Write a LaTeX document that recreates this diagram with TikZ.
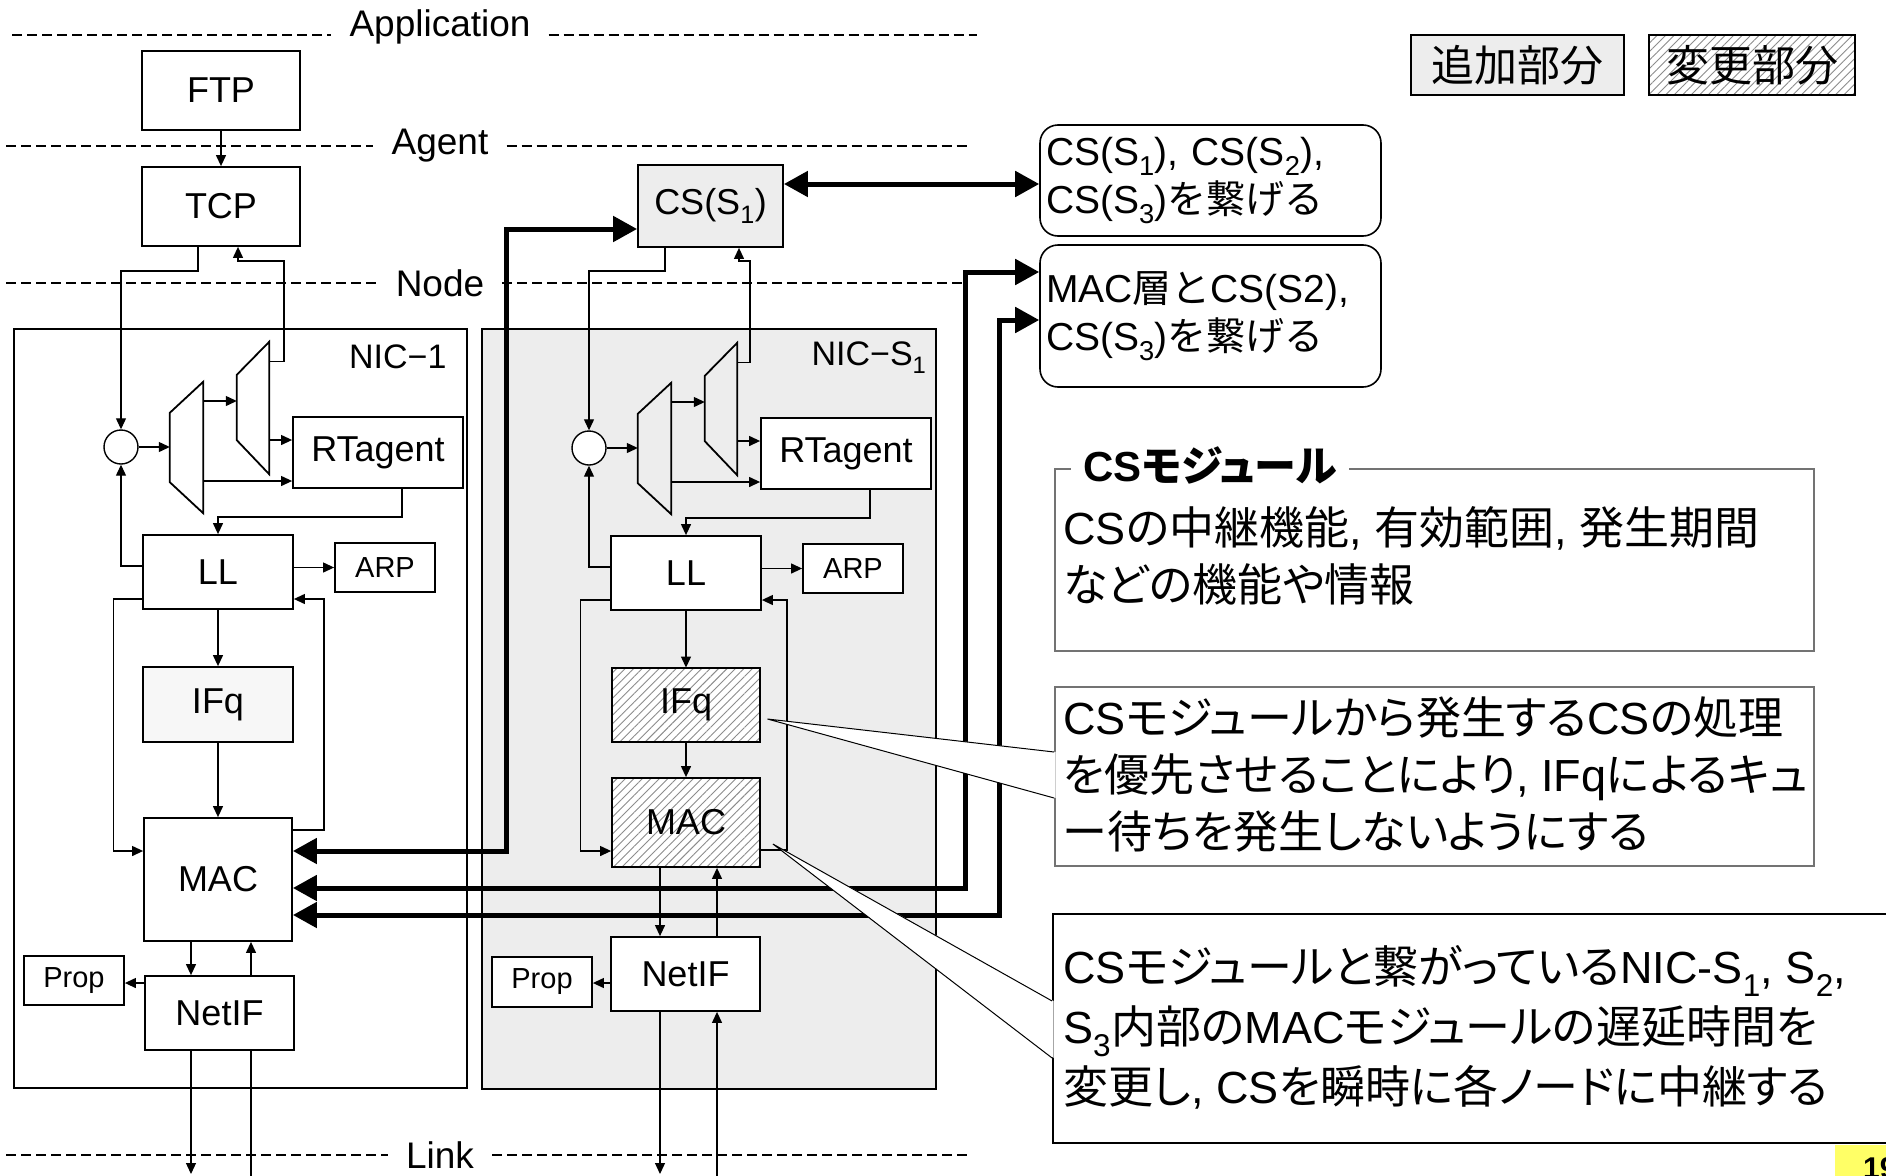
\documentclass[tikz,border=0pt]{standalone}
\usepackage{fontspec}
\setmainfont{Liberation Sans}
\newfontfamily\cjk{Noto Sans CJK JP}
\newfontfamily\cjkp[RawFeature=+palt]{Noto Sans CJK JP}
\usetikzlibrary{arrows.meta,patterns.meta}
\definecolor{pageyellow}{HTML}{FFFF66}

\begin{document}
\begin{tikzpicture}[
    x=1pt, y=-1pt,
    box/.style={draw, line width=1.8pt, inner sep=0pt, fill=white, font=\fontsize{36}{42}\selectfont}, % module boxes
    smallbox/.style={box, font=\fontsize{29}{34}\selectfont},
    wh/.style 2 args={minimum width=#1pt, minimum height=#2pt},
    added/.style={fill=black!7}, % added part
    hatched/.style={preaction={fill=white}, pattern={Lines[angle=45,distance=6pt,line width=0.9pt]}, pattern color=black!45}, % changed part
    frame/.style={draw, line width=1.8pt, inner sep=0pt},
    line/.style={line width=1.2pt},
    conn/.style={line, -{Triangle[length=11pt,width=10pt]}},
    bigarrow/.style={line width=5pt, {Triangle[length=24pt,width=25pt]}-{Triangle[length=24pt,width=25pt]}},
    layer/.style={line width=2pt, dash pattern=on 10pt off 5pt},
    layerlbl/.style={inner xsep=18pt, inner ysep=0pt, font=\fontsize{37}{42}\selectfont},
    rbox/.style={draw, line width=1.6pt, rounded corners=18pt, align=left, inner xsep=6pt, font=\fontsize{39}{48}\selectfont},
    infobox/.style={draw=black!55, line width=1.8pt, fill=white},
    infotext/.style={align=left, inner sep=0pt, anchor=north west, font=\fontsize{45}{57}\selectfont}
]

    % Canvas
    \useasboundingbox (0,0) rectangle (1886,1175);
    \clip (0,0) rectangle (1886,1175);

    % Layer lines
    \foreach \nm/\txt/\ly/\ty/\xa/\xb in {lyapp/Application/35/27/12/977, lyagent/Agent/146/146/6/968, lynode/Node/283/283/6/968, lylink/Link/1155/1155/6/969} {
        \node[layerlbl] (\nm) at (440,\ty) {\txt};
        \draw[layer] (\xa,\ly) -- (\nm.west |- 0,\ly);
        \draw[layer] (\nm.east |- 0,\ly) -- (\xb,\ly);
    }

    % Application / Agent
    \node[box, wh={158}{79}] (ftp) at (221,90.5) {FTP};
    \node[box, wh={158}{79}] (tcp) at (221,206.5) {TCP};
    \node[box, added, wh={145}{82}] (cs) at (710.5,206) {CS(S\textsubscript{1})};

    % NIC frames
    \node[frame, wh={453}{759}] (nicA) at (240.5,708.5) {};
    \node[frame, added, wh={454}{760}] (nicB) at (709,709) {};
    \node[anchor=east, font=\fontsize{34}{40}\selectfont] (nicAlbl) at (450,357) {NIC−1};
    \node[anchor=east, font=\fontsize{34}{40}\selectfont] (nicBlbl) at (930,358) {NIC−S\textsubscript{1}};

    % Upper part of both NICs
    \foreach \n/\dx/\dy in {A/0/0, B/468/1} {
        \begin{scope}[shift={(\dx,\dy)}]
            \node[circle, draw, line width=1.4pt, fill=white, minimum size=34pt, inner sep=0pt] (circ\n) at (121,447) {};
            \node[wh={33}{131}, inner sep=0pt] (dmx\n) at (186.5,447.5) {};
            \node[wh={32}{132}, inner sep=0pt] (rmx\n) at (253,408) {};
            \draw[line width=1.8pt] (dmx\n.north east) -- (dmx\n.south east) -- ([yshift=31pt]dmx\n.south west) -- ([yshift=-31pt]dmx\n.north west) -- cycle;
            \draw[line width=1.8pt] (rmx\n.north east) -- (rmx\n.south east) -- ([yshift=34pt]rmx\n.south west) -- ([yshift=-33pt]rmx\n.north west) -- cycle;
            \node[box, wh={170}{71}] (rt\n) at (378,452.5) {RTagent};
            \node[box, wh={150}{74}] (ll\n) at (218,572) {LL};
            \node[smallbox, wh={100}{49}] (arp\n) at (385,567.5) {ARP};

            \draw[conn] (circ\n) -- (dmx\n.west |- circ\n);
            \draw[conn] (dmx\n.east |- 0,401) -- (rmx\n.west |- 0,401);
            \draw[conn] (rmx\n.east |- 0,440) -- (rt\n.west |- 0,440);
            \draw[conn] (dmx\n.east |- 0,481) -- (rt\n.west |- 0,481);
            \draw[conn] ([xshift=24pt]rt\n.south) -- ++(0,28) -| (ll\n.north);
            \draw[conn] ([yshift=6pt]ll\n.west) -| (circ\n.south);
            \draw[conn] (ll\n.east |- arp\n) -- (arp\n);
        \end{scope}
    }

    % NIC-1 lower part
    \node[box, fill=black!3, wh={150}{75}] (ifqA) at (218,704.5) {IFq};
    \node[box, wh={148}{123}] (macA) at (218,879.5) {MAC};
    \node[smallbox, wh={100}{49}] (propA) at (74,980.5) {Prop};
    \node[box, wh={149}{74}] (netA) at (219.5,1013) {NetIF};
    \coordinate (linkA1) at (191,1174);
    \coordinate (linkA2) at (251,1180);

    \draw[conn] (llA) -- (ifqA);
    \draw[conn] (ifqA) -- (macA);
    \draw[conn] ([yshift=-27pt]llA.west) -- ++(-29,0) |- ([yshift=28.5pt]macA.west);
    \draw[conn] ([yshift=49.5pt]macA.east) -- ++(31,0) |- ([yshift=-27pt]llA.east);
    \draw[conn] (macA.south -| linkA1) -- (netA.north -| linkA1);
    \draw[conn] (netA.north -| linkA2) -- (macA.south -| linkA2);
    \draw[conn] (netA.west |- 0,983) -- (propA.east |- 0,983);
    \draw[conn] (netA.south -| linkA1) -- (linkA1);
    \draw[line] (linkA2) -- (netA.south -| linkA2);

    % NIC-S1 lower part
    \node[box, hatched, wh={148}{74}] (ifqB) at (686,705) {IFq};
    \node[box, hatched, wh={148}{89}] (macB) at (686,822.5) {MAC};
    \node[smallbox, wh={100}{50}] (propB) at (542,982) {Prop};
    \node[box, wh={149}{74}] (netB) at (685.5,974) {NetIF};
    \coordinate (linkB1) at (660,1174);
    \coordinate (linkB2) at (717,1180);

    \draw[conn] (llB) -- (ifqB);
    \draw[conn] (ifqB) -- (macB);
    \draw[conn] ([yshift=-27pt]llB.west) -- ++(-30,0) |- ([yshift=-28.5pt]macB.west);
    \draw[conn] ([yshift=-27.5pt]macB.east) -- ++(26,0) |- ([yshift=-27pt]llB.east);
    \draw[conn] (macB.south -| linkB1) -- (netB.north -| linkB1);
    \draw[conn] (netB.north -| linkB2) -- (macB.south -| linkB2);
    \draw[conn] (netB.west |- 0,983) -- (propB.east |- 0,983);
    \draw[conn] (netB.south -| linkB1) -- (linkB1);
    \draw[conn] (linkB2) -- (netB.south -| linkB2);

    % Agent <-> Node
    \draw[conn] (ftp) -- (tcp);
    \draw[conn] ([xshift=-23pt]tcp.south) -- ++(0,24) -| (circA.north);
    \draw[conn] ([yshift=-20pt]rmxA.north east) -| (284,261) -| ([xshift=17pt]tcp.south);
    \draw[conn] ([xshift=-45.5pt]cs.south) -- ++(0,23) -| (circB.north);
    \draw[conn] ([yshift=-20pt]rmxB.north east) -| (750,261) -| ([xshift=28.5pt]cs.south);

    % Legend
    \node[box, added, wh={213}{60}, font=\cjk\fontsize{43}{50}\selectfont] (legadd) at (1517.5,65) {追加部分};
    \node[box, hatched, wh={206}{60}, font=\cjk\fontsize{43}{50}\selectfont] (legchg) at (1752,65) {変更部分};

    % Link boxes
    \node[rbox, text width=329pt, minimum height=111pt] (lbox1) at (1210.5,180.5)
        {CS(S\textsubscript{1}), CS(S\textsubscript{2}),\\CS(S\textsubscript{3}){\cjk を繋げる}};
    \node[rbox, text width=329pt, minimum height=142pt] (lbox2) at (1210.5,316)
        {MAC{\cjk 層と}CS(S2),\\CS(S\textsubscript{3}){\cjk を繋げる}};

    % Thick connections
    \draw[bigarrow] ([yshift=28.5pt]macA.east) -| (506,229) -- ([yshift=-23pt]cs.west);
    \draw[bigarrow] ([yshift=-8.5pt]macA.east) -| (965,272) -- ([yshift=44pt]lbox2.west);
    \draw[bigarrow] ([yshift=-35.5pt]macA.east) -| (999,320) -- ([yshift=-4pt]lbox2.west);
    \draw[bigarrow] (cs.east |- 0,184) -- (lbox1.west |- 0,184);

    % Explanation boxes
    \node[infobox, wh={759}{182}] (info1) at (1434.5,560) {};
    \node[fill=white, anchor=west, inner xsep=12pt, inner ysep=0pt, font=\fontsize{42}{48}\selectfont\bfseries] (info1ttl) at (1071,465) {CS{\cjkp モジュール}};
    \node[infotext] (info1txt) at (1063,506)
        {CS{\cjkp の中継機能}, {\cjkp 有効範囲}, {\cjkp 発生期間}\\{\cjkp などの機能や情報}};

    \node[infobox, wh={759}{179}] (info2) at (1434.5,776.5) {};
    \node[infotext] (info2txt) at (1063,696)
        {CS{\cjkp モジュールから発生する}CS{\cjkp の処理}\\{\cjkp を優先させることにより}, IFq{\cjkp によるキュ}\\{\cjkp ー待ちを発生しないようにする}};

    \node[infobox, draw=black, wh={847}{229}] (info3) at (1476.5,1028.5) {};
    \node[infotext, font=\fontsize{45}{60}\selectfont] (info3txt) at (1063,945)
        {CS{\cjkp モジュールと繋がっている}NIC-S\textsubscript{1}, S\textsubscript{2},\\S\textsubscript{3}{\cjkp 内部の}MAC{\cjkp モジュールの遅延時間を}\\{\cjkp 変更し}, CS{\cjkp を瞬時に各ノードに中継する}};

    % Callouts
    \coordinate (ifqtip) at ([xshift=7pt,yshift=-14pt]ifqB.east);
    \coordinate (c2a) at (info2.west |- 0,752);
    \coordinate (c2b) at (info2.west |- 0,798);
    \fill[white] (ifqtip) -- ([xshift=1.5pt]c2a) -- ([xshift=1.5pt]c2b) -- cycle;
    \draw[line width=1pt] (c2a) -- (ifqtip) -- (c2b);

    \coordinate (mactip) at ([xshift=12pt,yshift=-21.5pt]macB.east);
    \coordinate (c3a) at (info3.west |- 0,1001);
    \coordinate (c3b) at (info3.west |- 0,1058);
    \fill[white] (mactip) -- ([xshift=1.5pt]c3a) -- ([xshift=1.5pt]c3b) -- cycle;
    \draw[line width=1pt] (c3a) -- (mactip) -- (c3b);

    % Page number
    \fill[pageyellow] (1835,1145) rectangle (1890,1180);
    \node[anchor=north west, inner sep=0pt, font=\fontsize{30}{34}\selectfont\bfseries] (pgnum) at (1863,1157) {19};

\end{tikzpicture}
\end{document}
